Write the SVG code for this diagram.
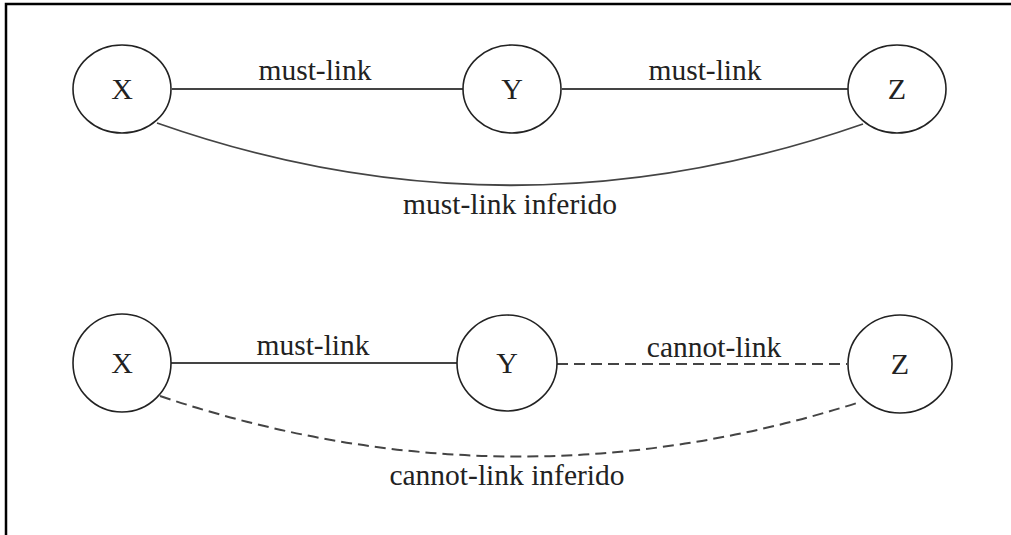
<svg xmlns="http://www.w3.org/2000/svg" width="1011" height="535" viewBox="0 0 1011 535">
  <style>
    .node ellipse { fill: #ffffff; stroke: #222222; stroke-width: 1.6; }
    .node text { font-family: "Liberation Serif", "Times New Roman", serif; font-size: 30px; fill: #222222; text-anchor: middle; }
    .edge { fill: none; stroke: #444444; stroke-width: 1.8; }
    .dash { stroke-dasharray: 11 6; stroke-width: 2; }
    .label { font-family: "Liberation Serif", "Times New Roman", serif; font-size: 29.5px; fill: #222222; text-anchor: middle; }
    .frame { stroke: #000000; stroke-width: 2.5; fill: none; }
  </style>
  <rect width="1011" height="535" fill="#ffffff"/>

  <!-- frame (top and left edges) -->
  <path class="frame" d="M6 535 V4 H1011"/>

  <!-- connectors -->
  <g id="connectors">
    <!-- top row -->
    <line class="edge" x1="172" y1="89" x2="463" y2="89"/>
    <line class="edge" x1="562" y1="89" x2="848" y2="89"/>
    <path class="edge" d="M157 123 Q510 247 863 124"/>
    <text class="label" x="315" y="80">must-link</text>
    <text class="label" x="705" y="80">must-link</text>
    <text class="label" x="510" y="214">must-link inferido</text>

    <!-- bottom row -->
    <line class="edge" x1="171" y1="363" x2="457" y2="363"/>
    <line class="edge dash" x1="557" y1="364" x2="847" y2="364"/>
    <path class="edge dash" d="M160 396 Q510 514 860 402"/>
    <text class="label" x="313" y="355">must-link</text>
    <text class="label" x="714" y="357">cannot-link</text>
    <text class="label" x="507" y="485">cannot-link inferido</text>
  </g>

  <!-- top row nodes -->
  <g id="node-x1" class="node">
    <ellipse cx="122" cy="89" rx="49" ry="44"/>
    <text x="122" y="99">X</text>
  </g>
  <g id="node-y1" class="node">
    <ellipse cx="512" cy="89" rx="49" ry="44"/>
    <text x="512" y="99">Y</text>
  </g>
  <g id="node-z1" class="node">
    <ellipse cx="897" cy="89" rx="49" ry="44"/>
    <text x="897" y="99">Z</text>
  </g>

  <!-- bottom row nodes -->
  <g id="node-x2" class="node">
    <ellipse cx="122" cy="363" rx="49" ry="49"/>
    <text x="122" y="373">X</text>
  </g>
  <g id="node-y2" class="node">
    <ellipse cx="507" cy="363" rx="50" ry="48"/>
    <text x="507" y="373">Y</text>
  </g>
  <g id="node-z2" class="node">
    <ellipse cx="900" cy="364" rx="52" ry="49"/>
    <text x="900" y="374">Z</text>
  </g>
</svg>
